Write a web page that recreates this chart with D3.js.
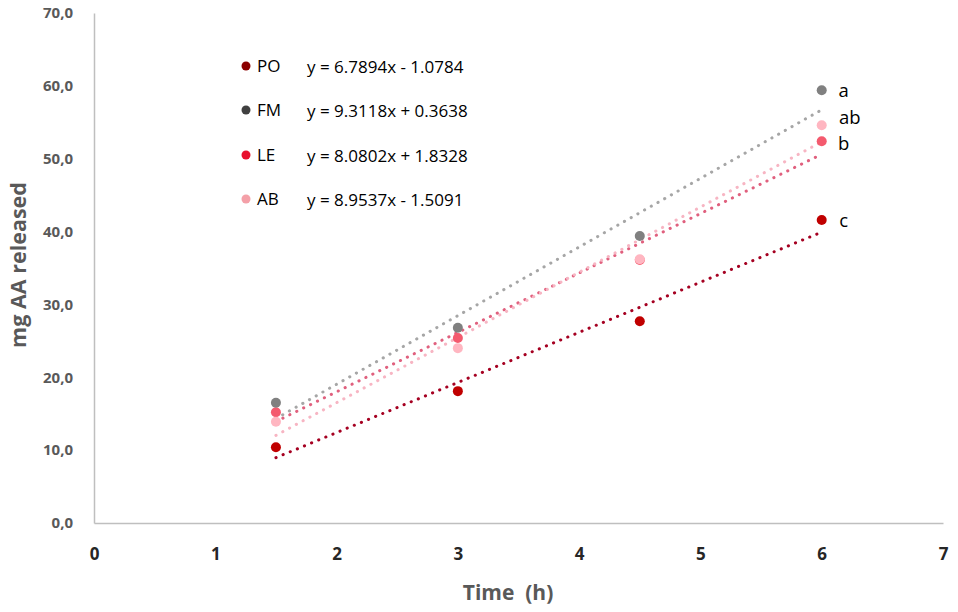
<!DOCTYPE html>
<html><head><meta charset="utf-8">
<script src="https://cdn.jsdelivr.net/npm/d3@7"></script>
<style>body{margin:0;background:#fff}svg{display:block}</style>
</head><body>
<svg id="c" width="958" height="612"></svg>
<script>
const times = [1.5, 3, 4.5, 6];
const seriesNames = ["PO", "FM", "LE", "AB"];
const PO = [10.4, 18.1, 27.7, 41.6];
const FM = [16.5, 26.8, 39.4, 59.4];
const LE = [15.2, 25.4, 36.1, 52.4];
const AB = [13.9, 24.0, 36.2, 54.6];
const equations = ["y = 6.7894x - 1.0784", "y = 9.3118x + 0.3638", "y = 8.0802x + 1.8328", "y = 8.9537x - 1.5091"];
const letters = ["c", "a", "b", "ab"];
const xTicks = [0,1,2,3,4,5,6,7];
const yTicks = [0,10,20,30,40,50,60,70];

const values = {PO, FM, LE, AB};
const markerColor = {PO:"#C00000", FM:"#808080", LE:"#F45A6E", AB:"#FFB6C1"};
const trendColor = {PO:"#A50021", FM:"#A6A6A6", LE:"#E0607E", AB:"#F7B5C3"};
const legendColor = {PO:"#8B0000", FM:"#404040", LE:"#E8102E", AB:"#F4A0A8"};
const letterOffset = {PO:[0,0], FM:[0,0], LE:[0,2], AB:[6,-8]};

const svg = d3.select("#c");
const m = {l:94, t:13, r:15, b:89};
const W = 958 - m.l - m.r, H = 612 - m.t - m.b;
const x = d3.scaleLinear().domain([0,7]).range([m.l, m.l + W]);
const y = d3.scaleLinear().domain([0,70]).range([m.t + H, m.t]);

// axes
const xa = svg.append("g").attr("transform", `translate(0,${y(0)})`)
  .call(d3.axisBottom(x).tickValues(xTicks).tickSize(0).tickFormat(d3.format("d")));
xa.select(".domain").attr("stroke", "#BFBFBF").attr("stroke-width", 1.5);
xa.selectAll("text").attr("dy", "1.45em").attr("y", 12)
  .style("font-family", "'Open Sans', sans-serif").style("font-size", "17px")
  .style("font-weight", "bold").attr("fill", "#262626");

const ya = svg.append("g").attr("transform", `translate(${x(0)},0)`)
  .call(d3.axisLeft(y).tickValues(yTicks).tickSize(0).tickFormat(d => d3.format(".1f")(d).replace(".", ",")));
ya.select(".domain").attr("stroke", "#BFBFBF").attr("stroke-width", 1.5);
ya.selectAll("text").attr("x", -21)
  .style("font-family", "'Open Sans', sans-serif").style("font-size", "15px")
  .style("font-weight", "bold").attr("fill", "#595959");

// axis titles
svg.append("text").attr("x", 508).attr("y", 600).attr("text-anchor", "middle")
  .style("font-family", "'Open Sans', sans-serif").style("font-size", "21px")
  .style("font-weight", "bold").attr("fill", "#595959").attr("xml:space","preserve").text("Time  (h)");
svg.append("text").attr("transform", "translate(26,265) rotate(-90)").attr("text-anchor", "middle")
  .style("font-family", "'Open Sans', sans-serif").style("font-size", "21.5px")
  .style("font-weight", "bold").attr("fill", "#595959").text("mg AA released");

// trendlines (least squares fit of each series)
function fit(vals) {
  const mx = d3.mean(times), my = d3.mean(vals);
  const sxy = d3.sum(times, (t,i) => (t-mx)*(vals[i]-my));
  const sxx = d3.sum(times, t => (t-mx)*(t-mx));
  const b = sxy/sxx; return {b, a: my - b*mx};
}
const line = d3.line().x(d => x(d[0])).y(d => y(d[1]));
seriesNames.forEach(s => {
  const f = fit(values[s]);
  const ends = [times[0], times[times.length-1]].map(t => [t, f.a + f.b*t]);
  svg.append("path").attr("d", line(ends)).attr("fill", "none")
    .attr("stroke", trendColor[s]).attr("stroke-width", 3)
    .attr("stroke-linecap", "round").attr("stroke-dasharray", "0.2,7.5");
});

// markers
const drawOrder = ["PO", "LE", "FM", "AB"];
drawOrder.forEach(s => {
  svg.append("g").selectAll("circle").data(values[s]).join("circle")
    .attr("cx", (d,i) => x(times[i])).attr("cy", d => y(d)).attr("r", 5)
    .attr("fill", markerColor[s]);
});

// significance letters
seriesNames.forEach((s, i) => {
  const last = values[s][values[s].length-1];
  svg.append("text").attr("x", x(6) + 22 + letterOffset[s][0]).attr("y", y(last) + 7 + letterOffset[s][1])
    .attr("text-anchor", "middle")
    .style("font-family", "'Open Sans', sans-serif").style("font-size", "18.5px")
    .attr("fill", "#000").text(letters[i]);
});

// legend with equations
const legY = [66, 110, 155, 199];
seriesNames.forEach((s, i) => {
  svg.append("circle").attr("cx", 246).attr("cy", legY[i]).attr("r", 4.5).attr("fill", legendColor[s]);
  svg.append("text").attr("x", 257).attr("y", legY[i] + 6)
    .style("font-family", "'Open Sans', sans-serif").style("font-size", "17px")
    .attr("fill", "#000").text(s);
  svg.append("text").attr("x", 307).attr("y", legY[i] + 7)
    .style("font-family", "'Open Sans', sans-serif").style("font-size", "17px")
    .attr("fill", "#000").text(equations[i]);
});
</script>
</body></html>
